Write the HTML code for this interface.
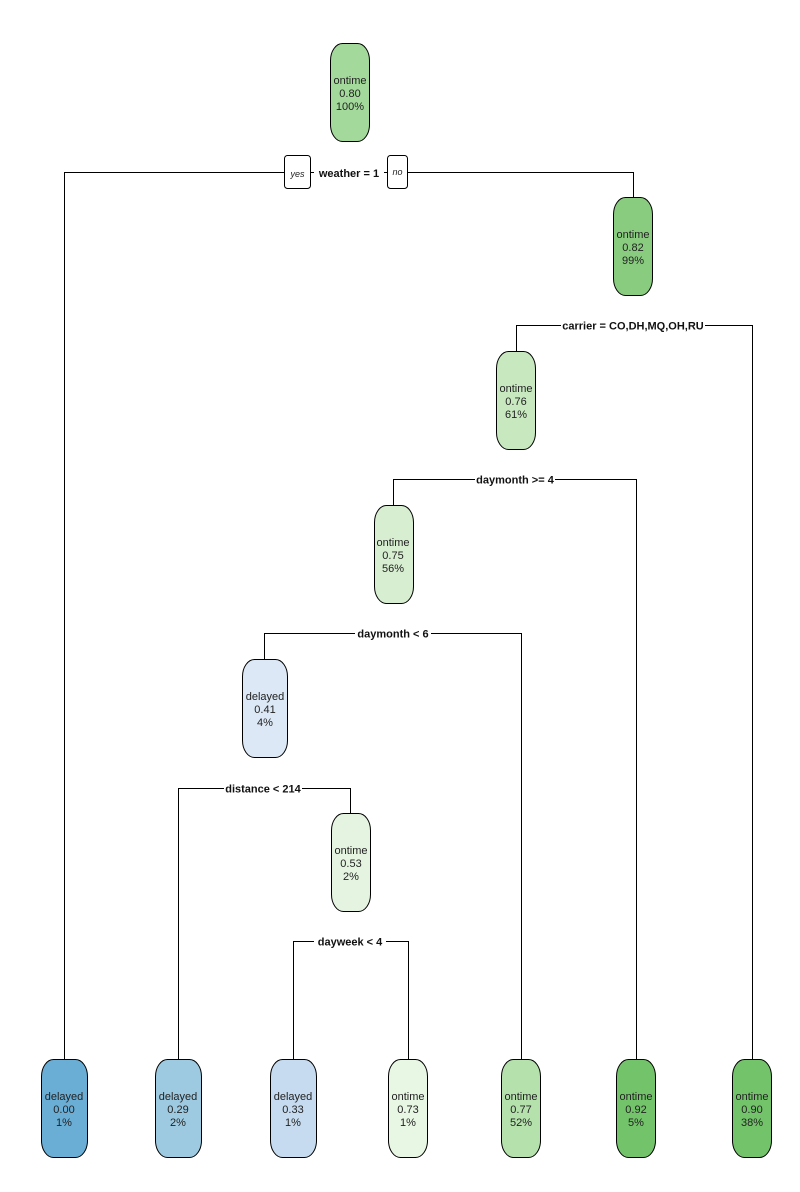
<!DOCTYPE html>
<html><head><meta charset="utf-8"><style>
html,body{margin:0;padding:0;background:#fff}
svg{display:block}
text{font-family:"Liberation Sans",sans-serif;fill:#222}
.n{font-size:11px}
.s{font-size:11px;font-weight:bold;fill:#111}
</style></head><body>
<svg width="800" height="1192" viewBox="0 0 800 1192" xmlns="http://www.w3.org/2000/svg">
<g fill="none" stroke="#000" stroke-width="1">
<!-- weather -->
<polyline points="64.5,1059 64.5,172.5 633.5,172.5 633.5,197"/>
<!-- carrier -->
<polyline points="516.5,351 516.5,325.5 752.5,325.5 752.5,1059"/>
<!-- daymonth>=4 -->
<polyline points="393.5,505 393.5,479.5 636.5,479.5 636.5,1059"/>
<!-- daymonth<6 -->
<polyline points="264.5,659 264.5,633.5 521.5,633.5 521.5,1059"/>
<!-- distance -->
<polyline points="178.5,1059 178.5,788.5 350.5,788.5 350.5,813"/>
<!-- dayweek -->
<polyline points="293.5,1059 293.5,941.5 408.5,941.5 408.5,1059"/>
</g>
<!-- split labels -->
<g>
<rect x="314" y="165" width="70" height="15" fill="#fff"/>
<text class="s" x="349" y="177" text-anchor="middle">weather = 1</text>
<rect x="284.5" y="155.5" width="26" height="33" rx="3" fill="#fff" stroke="#000"/>
<text x="297.5" y="177" text-anchor="middle" style="font-size:9px;font-style:italic">yes</text>
<rect x="387.5" y="155.5" width="20" height="33" rx="3" fill="#fff" stroke="#000"/>
<text x="397.5" y="175" text-anchor="middle" style="font-size:9px;font-style:italic">no</text>

<rect x="561" y="318" width="144" height="15" fill="#fff"/>
<text class="s" x="633" y="329.5" text-anchor="middle">carrier = CO,DH,MQ,OH,RU</text>
<rect x="475" y="472" width="80" height="15" fill="#fff"/>
<text class="s" x="515" y="483.5" text-anchor="middle">daymonth &gt;= 4</text>
<rect x="355" y="626" width="76" height="15" fill="#fff"/>
<text class="s" x="393" y="637.5" text-anchor="middle">daymonth &lt; 6</text>
<rect x="224" y="781" width="78" height="15" fill="#fff"/>
<text class="s" x="263" y="792.5" text-anchor="middle">distance &lt; 214</text>
<rect x="314" y="934" width="72" height="15" fill="#fff"/>
<text class="s" x="350" y="945.5" text-anchor="middle">dayweek &lt; 4</text>
</g>
<!-- nodes -->
<g stroke="#000" stroke-width="1">
<rect x="330.5" y="43.5" width="39" height="98" rx="12" ry="17" fill="#a3d99b"/>
<rect x="613.5" y="197.5" width="39" height="98" rx="12" ry="17" fill="#89cc7f"/>
<rect x="496.5" y="351.5" width="39" height="98" rx="12" ry="17" fill="#c8e8c0"/>
<rect x="374.5" y="505.5" width="39" height="98" rx="12" ry="17" fill="#d7eed1"/>
<rect x="242.5" y="659.5" width="45" height="98" rx="12" ry="17" fill="#dce8f5"/>
<rect x="331.5" y="813.5" width="39" height="98" rx="12" ry="17" fill="#e5f4e1"/>
<rect x="41.5" y="1059.5" width="46" height="98" rx="12" ry="17" fill="#6aaed6"/>
<rect x="155.5" y="1059.5" width="46" height="98" rx="12" ry="17" fill="#9dcae1"/>
<rect x="270.5" y="1059.5" width="46" height="98" rx="12" ry="17" fill="#c6dbef"/>
<rect x="388.5" y="1059.5" width="39" height="98" rx="12" ry="17" fill="#e8f6e4"/>
<rect x="501.5" y="1059.5" width="39" height="98" rx="12" ry="17" fill="#b5e1ad"/>
<rect x="616.5" y="1059.5" width="39" height="98" rx="12" ry="17" fill="#73c36a"/>
<rect x="732.5" y="1059.5" width="39" height="98" rx="12" ry="17" fill="#73c36a"/>
</g>
<g class="n" text-anchor="middle">
<text x="350" y="84">ontime</text><text x="350" y="97">0.80</text><text x="350" y="110">100%</text>
<text x="633" y="238">ontime</text><text x="633" y="251">0.82</text><text x="633" y="264">99%</text>
<text x="516" y="392">ontime</text><text x="516" y="405">0.76</text><text x="516" y="418">61%</text>
<text x="393" y="546">ontime</text><text x="393" y="559">0.75</text><text x="393" y="572">56%</text>
<text x="265" y="700">delayed</text><text x="265" y="713">0.41</text><text x="265" y="726">4%</text>
<text x="351" y="854">ontime</text><text x="351" y="867">0.53</text><text x="351" y="880">2%</text>
<text x="64" y="1100">delayed</text><text x="64" y="1113">0.00</text><text x="64" y="1126">1%</text>
<text x="178" y="1100">delayed</text><text x="178" y="1113">0.29</text><text x="178" y="1126">2%</text>
<text x="293" y="1100">delayed</text><text x="293" y="1113">0.33</text><text x="293" y="1126">1%</text>
<text x="408" y="1100">ontime</text><text x="408" y="1113">0.73</text><text x="408" y="1126">1%</text>
<text x="521" y="1100">ontime</text><text x="521" y="1113">0.77</text><text x="521" y="1126">52%</text>
<text x="636" y="1100">ontime</text><text x="636" y="1113">0.92</text><text x="636" y="1126">5%</text>
<text x="752" y="1100">ontime</text><text x="752" y="1113">0.90</text><text x="752" y="1126">38%</text>
</g>
</svg>
</body></html>
